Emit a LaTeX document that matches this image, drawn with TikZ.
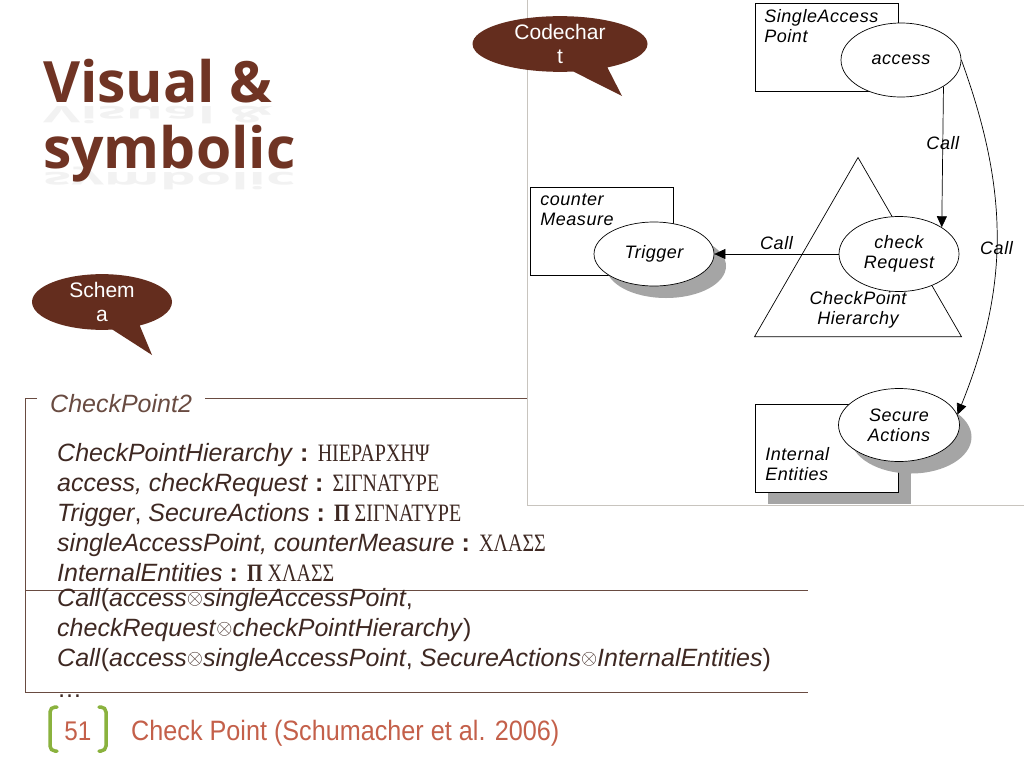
\documentclass[tikz,border=0pt]{standalone}
\usepackage{fontspec}
\usepackage{graphicx}
\setmainfont{Liberation Sans}
\newfontfamily\titlefont{Open Sans}
\newfontfamily\greekfont[FakeStretch=0.8]{Liberation Serif}
\newfontfamily\chartfont[LetterSpace=3]{Liberation Sans}
\newfontfamily\footfont[FakeStretch=0.9]{Liberation Sans}
\usetikzlibrary{positioning,shapes.geometric,shapes.callouts,shadows,arrows.meta}
\definecolor{titlebrown}{RGB}{112,52,36}
\definecolor{bubblebrown}{RGB}{100,45,30}
\definecolor{schemabrown}{RGB}{105,75,65}
\definecolor{textbrown}{RGB}{62,40,34}
\definecolor{framegray}{RGB}{200,196,190}
\definecolor{shadowgray}{RGB}{165,165,165}
\definecolor{footred}{RGB}{196,96,74}
\definecolor{footgreen}{RGB}{138,178,62}
\newcommand{\grk}[1]{{\greekfont #1}}
\newcommand{\ox}{{\fontsize{22}{22}\selectfont\raisebox{1.5pt}{$\otimes$}}}
\begin{document}
\begin{tikzpicture}[x=1pt,y=-1pt,
  bubble/.style={ellipse callout,fill=bubblebrown,text=white,inner sep=0pt,align=center,callout pointer arc=24,font=\fontsize{21}{24}\selectfont},
  chart/.style={font=\chartfont\itshape\fontsize{18}{20}\selectfont},
  chartbox/.style={draw,fill=white,line width=0.7pt,minimum width=143pt,minimum height=88pt,inner sep=0pt},
  oval/.style={ellipse,draw,fill=white,line width=0.7pt,inner sep=0pt,align=center,chart},
  castshadow/.style={drop shadow={fill=shadowgray,opacity=1,shadow xshift=12pt,shadow yshift=-12pt}},
  callarrow/.style={-{Triangle[length=11pt,width=10pt]},line width=0.7pt},
  decl/.style={anchor=base west,inner sep=0pt,text=textbrown,font=\fontsize{25}{30}\selectfont}]
\useasboundingbox (0,0) rectangle (1024,768);
\fill[white] (0,0) rectangle (1024,768);
\node[anchor=base west,inner sep=0pt,text=gray!10,font=\titlefont\bfseries\fontsize{57}{57}\selectfont] (visualecho) at (43,106) {\scalebox{1}[-0.4]{Visual \&}};
\node[anchor=base west,inner sep=0pt,text=gray!10,font=\titlefont\bfseries\fontsize{57}{57}\selectfont] (symbolicecho) at (43,172) {\scalebox{1}[-0.4]{symbolic}};
\node[anchor=base west,inner sep=0pt,text=titlebrown,font=\titlefont\bfseries\fontsize{57}{57}\selectfont] (visual) at (43,102) {Visual \&};
\node[anchor=base west,inner sep=0pt,text=titlebrown,font=\titlefont\bfseries\fontsize{57}{57}\selectfont] (symbolic) at (43,168) {symbolic};
\draw[framegray,line width=0.8pt] (527,0) -- (527,505) -- (1024,505);
\node[bubble,minimum width=175pt,minimum height=54pt,callout absolute pointer={(622,96)}] (codechart) at (560,44) {Codechar\\t};
\node[bubble,minimum width=140pt,minimum height=50pt,callout absolute pointer={(152,355)}] (schema) at (102,302) {Schem\\a};
\node[anchor=base west,inner sep=0pt,text=schemabrown,font=\fontsize{25}{30}\selectfont\itshape] (schemaname) at (50,412) {CheckPoint2};
\draw[schemabrown,line width=0.9pt] (37,398) -- (25,398) -- (25,692) -- (808,692);
\draw[schemabrown,line width=0.9pt] (205,398) -- (527,398);
\draw[schemabrown,line width=0.9pt] (25,590) -- (808,590);
\node[decl] (hierdecl) at (57,461) {\textit{CheckPointHierarchy} \textbf{:} \grk{ΗΙΕΡΑΡΧΗΨ}};
\node[decl] (sigdecl) at (57,491) {\textit{access, checkRequest} \textbf{:} \grk{ΣΙΓΝΑΤΥΡΕ}};
\node[decl] (psigdecl) at (57,521) {\textit{Trigger}, \textit{SecureActions} \textbf{:} \grk{\textbf{Π} ΣΙΓΝΑΤΥΡΕ}};
\node[decl] (classdecl) at (57,551) {\textit{singleAccessPoint, counterMeasure} \textbf{:} \grk{ΧΛΑΣΣ}};
\node[decl] (pclassdecl) at (57,581) {\textit{InternalEntities} \textbf{:} \grk{\textbf{Π} ΧΛΑΣΣ}};
\node[decl] (callonedecl) at (57,606) {\textit{Call}(\textit{access}\ox\textit{singleAccessPoint},};
\node[decl] (callonemore) at (57,636) {\textit{checkRequest}\ox\textit{checkPointHierarchy})};
\node[decl] (calltwodecl) at (57,666) {\textit{Call}(\textit{access}\ox\textit{singleAccessPoint}, \textit{SecureActions}\ox\textit{InternalEntities})};
\node[decl] (moredecl) at (57,697) {\dots};
\node[chartbox] (sap) at (827,47) {};
\node[oval,minimum width=120pt,minimum height=74pt] (access) at (901,60) {access};
\node[chart,align=left,inner sep=0pt,below right=7pt and 9pt of sap.north west] (saplabel) {SingleAccess\\Point};
\node[chartbox] (cm) at (602,231) {};
\node[chart,align=left,inner sep=0pt,below right=7pt and 10pt of cm.north west] (cmlabel) {counter\\Measure};
\node[oval,castshadow,minimum width=120pt,minimum height=64pt] (trigger) at (654,254) {Trigger};
\node[draw,regular polygon,regular polygon sides=3,minimum size=239pt,inner sep=0pt,line width=0.7pt] (hierarchy) at (858,277) {};
\node[chart,align=center,inner sep=0pt,below=14pt of hierarchy.center] (hierlabel) {CheckPoint\\Hierarchy};
\node[oval,minimum width=120pt,minimum height=75pt] (checkreq) at (899,254) {check\\Request};
\node[chartbox,castshadow] (ie) at (827,448) {};
\node[chart,align=left,inner sep=0pt,above right=11pt and 10pt of ie.south west] (ielabel) {Internal\\Entities};
\node[oval,castshadow,minimum width=121pt,minimum height=73pt] (secure) at (899,425) {Secure\\Actions};
\draw[callarrow] (access.-32) -- node[chart,pos=0.4] (callone) {Call} (checkreq.32);
\draw[callarrow] (checkreq.west) -- node[chart,above=1pt] (calltwo) {Call} (trigger.east);
\draw[callarrow] (access.east) to[out=-70,in=68] node[chart,pos=0.53] (callthree) {Call} (secure.10);
\draw[footgreen,line width=3.5pt,line cap=round,rounded corners=5pt] (57,707) -- (50,707) -- (50,751) -- (57,751);
\draw[footgreen,line width=3.5pt,line cap=round,rounded corners=5pt] (99,707) -- (106,707) -- (106,751) -- (99,751);
\node[text=footred,inner sep=0pt,font=\footfont\fontsize{27}{27}\selectfont] (slidenum) at (78,731) {51};
\node[anchor=base west,inner sep=0pt,text=footred,font=\footfont\fontsize{28}{28}\selectfont] (source) at (131,740) {Check Point (Schumacher et al. 2006)};
\end{tikzpicture}
\end{document}
